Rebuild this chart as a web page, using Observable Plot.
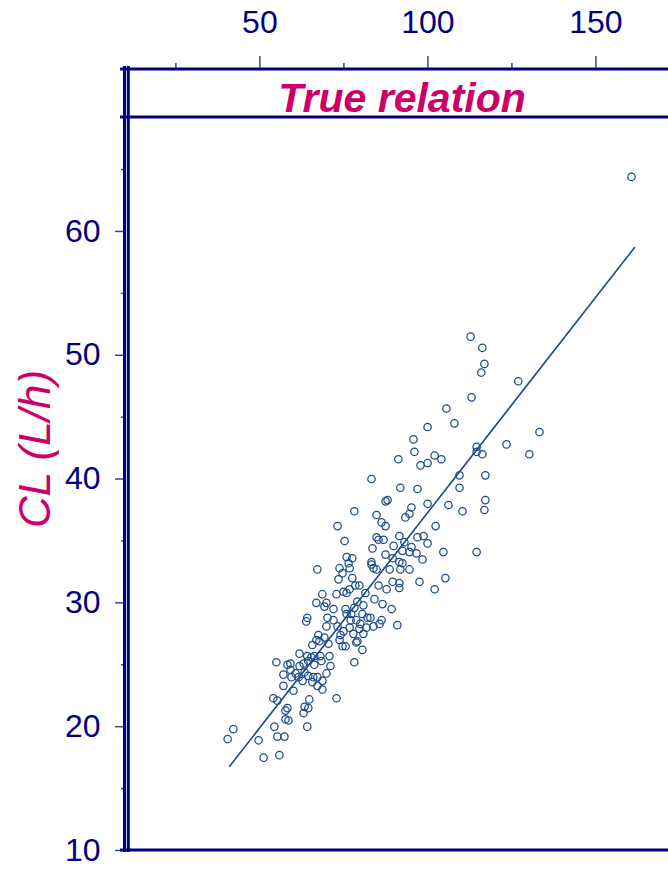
<!DOCTYPE html>
<html>
<head>
<meta charset="utf-8">
<script src="https://cdn.jsdelivr.net/npm/d3@7"></script>
<script src="https://cdn.jsdelivr.net/npm/@observablehq/plot@0.6"></script>
<style>
  html, body { margin: 0; padding: 0; background: #fff; overflow: hidden; }
</style>
</head>
<body>
<div id="chart"></div>
<script>
// Body weight (kg) of each subject
const weight = [
  65.6, 67.7, 70.4, 61.8, 64.1, 65.3, 66.2, 68.0, 70.7, 54.9,
  58.2, 59.1, 61.8, 63.0, 64.4, 66.2, 68.3, 71.0, 59.1, 60.6,
  57.0, 59.4, 63.3, 64.4, 65.9, 67.1, 68.6, 69.8, 61.5, 62.7,
  65.6, 57.0, 67.1, 68.6, 60.0, 54.0, 55.2, 64.7, 58.2, 57.6,
  63.3, 64.4, 63.0, 57.6, 58.5, 54.3, 64.1, 42.1, 40.4, 55.2,
  57.3, 49.6, 51.1, 55.8,
  67.1, 68.6, 66.8, 69.8, 69.2, 64.1, 63.8, 70.1, 69.8, 67.4, 69.2, 66.8,
  74.6, 75.5, 78.7, 80.5, 78.1, 72.8,
  83.2, 91.8, 96.9, 87.4, 88.0, 95.1, 99.9, 78.1, 84.7, 94.5,
  93.3, 86.2, 87.4, 73.1, 102.3, 75.2, 84.7, 85.3, 86.8, 91.5,
  96.9, 98.7, 93.0, 99.9, 83.5, 89.8, 95.1, 92.4, 94.5, 96.6,
  87.4, 89.5, 98.4, 75.8, 77.5, 76.4, 83.2, 83.2, 91.5, 92.4,
  73.7, 76.7, 83.8, 84.7, 88.6, 91.8, 94.5, 74.6, 73.4, 77.5,
  89.5, 91.5, 91.5, 97.5, 85.3, 78.4, 79.6, 87.7, 102.0, 76.7,
  74.9, 75.8, 72.8, 81.4, 84.1, 79.0, 86.5, 80.8, 89.2, 71.9,
  75.5, 78.1, 75.8, 77.2, 80.5, 71.9, 82.0, 82.9, 86.2, 77.0,
  78.7, 79.9, 90.9, 85.6, 83.8, 73.1, 74.9, 76.7, 79.6, 81.7,
  77.8, 80.8, 74.0, 73.7, 79.0,
  109.4, 106.1, 110.3, 117.1, 116.8, 104.6, 114.5, 105.2,
  112.7, 116.2, 116.8, 115.9, 126.9, 113.0, 105.5, 107.9, 99.9, 133.2,
  95.7, 96.0, 91.2, 102.0, 104.0, 99.9, 97.8, 114.5, 114.5, 116.2,
  123.4, 130.2, 109.4, 117.1,
  160.6
];

// Clearance (L/h) of each subject, same order as weight
const clearance = [
  26.6, 26.9, 26.7, 25.9, 25.7, 25.6, 25.7, 25.7, 25.7, 25.2,
  25.0, 25.1, 24.9, 25.1, 25.3, 25.0, 25.3, 24.9, 24.6, 24.3,
  24.2, 24.0, 24.4, 24.1, 24.0, 24.0, 23.7, 24.3, 24.0, 23.7,
  23.6, 23.3, 23.3, 23.0, 22.9, 22.3, 22.1, 22.2, 21.5, 21.3,
  21.6, 21.5, 21.1, 20.6, 20.5, 20.0, 20.0, 19.8, 19.0, 19.2,
  19.2, 18.9, 17.5, 17.7,
  32.7, 30.7, 30.0, 30.0, 29.7, 28.8, 28.5, 28.8, 28.1, 27.4, 27.2, 27.0,
  26.5, 26.5, 26.8, 26.2, 25.2, 22.3,
  40.0, 39.3, 39.2, 38.2, 38.3, 37.7, 38.0, 37.4, 37.1, 37.2,
  36.9, 36.5, 36.2, 36.2, 36.2, 35.0, 35.3, 35.1, 35.1, 35.4,
  35.3, 35.4, 34.9, 34.8, 34.4, 34.6, 34.5, 34.2, 34.1, 34.0,
  33.9, 33.6, 33.5, 33.7, 33.6, 33.2, 33.3, 33.1, 33.3, 33.2,
  32.8, 32.8, 32.8, 32.7, 32.7, 32.7, 32.7, 32.4, 31.9, 32.0,
  31.7, 31.6, 31.2, 31.7, 31.4, 31.4, 31.4, 31.1, 31.1, 31.1,
  30.9, 30.8, 30.7, 30.8, 30.3, 30.1, 29.9, 29.8, 29.5, 29.5,
  29.5, 29.6, 29.1, 29.1, 29.1, 28.6, 28.8, 28.8, 28.6, 28.6,
  28.6, 28.3, 28.2, 28.3, 28.1, 28.1, 27.7, 28.0, 27.9, 28.0,
  27.5, 27.5, 27.4, 27.0, 26.9,
  39.3, 37.9, 37.4, 38.3, 37.5, 34.1, 34.1, 32.0,
  51.5, 50.6, 49.3, 48.6, 47.9, 46.6, 45.7, 44.5, 44.2, 43.8,
  43.2, 42.2, 41.6, 41.9, 41.6, 41.3, 41.1, 42.6, 42.2, 42.0,
  42.8, 42.0, 40.3, 40.3,
  64.4
];

// The true weight–clearance relation, from lightest to heaviest subject
const relationWeight = [41.0, 161.5];
const relationClearance = [16.8, 58.7];

// Axis ticks and labels
const xTicks = [50, 100, 150];
const xMinorTicks = [25, 75, 125];
const yTicks = [10, 20, 30, 40, 50, 60];
const yMinorTicks = [15, 25, 35, 45, 55, 65];
const panelTitle = "True relation";
const yTitle = "CL (L/h)";

const navy = "#000080";
const magenta = "#cc0066";
const ink = "#1b4b8b";
const tickBlue = "#3a44a0";
const font = "'Liberation Sans', Arial, Helvetica, sans-serif";

const subjects = weight.map((w, i) => ({weight: w, clearance: clearance[i]}));
const relation = relationWeight.map((w, i) => ({weight: w, clearance: relationClearance[i]}));

const stripHeight = 48;
const W = 668, H = 872;
const M = {left: 125, right: 0, top: 117, bottom: 22};

const plot = Plot.plot({
  width: W,
  height: H,
  marginLeft: M.left,
  marginRight: M.right,
  marginTop: M.top,
  marginBottom: M.bottom,
  style: {fontFamily: font, background: "#fff", overflow: "hidden"},
  x: {domain: [10, 171.6]},
  y: {domain: [10, 69.2]},
  marks: [
    // weight axis, drawn above the strip
    Plot.axisX(xTicks, {anchor: "top", tickSize: 14, tickPadding: 23, dy: -stripHeight,
      fontSize: 32, color: navy, label: null}),
    Plot.axisX(xMinorTicks, {anchor: "top", tickSize: 7, dy: -stripHeight,
      tickFormat: () => "", color: navy, label: null}),
    // clearance axis
    Plot.axisY(yTicks, {anchor: "left", tickSize: 10, tickPadding: 15,
      fontSize: 32, color: navy, label: null}),
    Plot.axisY(yMinorTicks, {anchor: "left", tickSize: 4,
      tickFormat: () => "", color: navy, label: null}),
    Plot.line(relation, {x: "weight", y: "clearance", stroke: ink, strokeWidth: 1.6}),
    Plot.dot(subjects, {x: "weight", y: "clearance", r: 3.7, stroke: ink, strokeWidth: 1.25, fill: "none"}),
    Plot.text([panelTitle], {frameAnchor: "top", dx: 5, dy: -19, fontSize: 41, fontWeight: "bold",
      fontStyle: "italic", fill: magenta, lineAnchor: "middle", textAnchor: "middle"}),
    Plot.text([yTitle], {frameAnchor: "left", rotate: -90, dx: -90, dy: -35, fontSize: 44,
      fontStyle: "italic", fill: magenta, lineAnchor: "middle", textAnchor: "middle"})
  ]
});

// lighter tick strokes
d3.select(plot).selectAll('g[aria-label$="tick"]').attr("stroke", tickBlue).attr("stroke-width", 1.5);

// panel and strip borders (the panel runs on past the right edge)
const svg = d3.select(plot);
const g = svg.append("g").attr("stroke", navy).attr("fill", "none");
const x0 = M.left, x1 = W, yTop = M.top - stripHeight, yB = H - M.bottom;
g.append("line").attr("x1", x0 - 5).attr("x2", x1).attr("y1", yTop).attr("y2", yTop).attr("stroke-width", 3);
g.append("line").attr("x1", x0 - 5).attr("x2", x1).attr("y1", M.top).attr("y2", M.top).attr("stroke-width", 3);
g.append("line").attr("x1", x0 - 5).attr("x2", x1).attr("y1", yB).attr("y2", yB).attr("stroke-width", 3);
g.append("line").attr("x1", x0 - 0.5).attr("x2", x0 - 0.5).attr("y1", yTop - 3).attr("y2", yB + 2).attr("stroke-width", 3);
g.append("line").attr("x1", x0 + 3.3).attr("x2", x0 + 3.3).attr("y1", yTop - 3).attr("y2", yB + 2).attr("stroke-width", 3);

document.getElementById("chart").appendChild(plot);
</script>
</body>
</html>
